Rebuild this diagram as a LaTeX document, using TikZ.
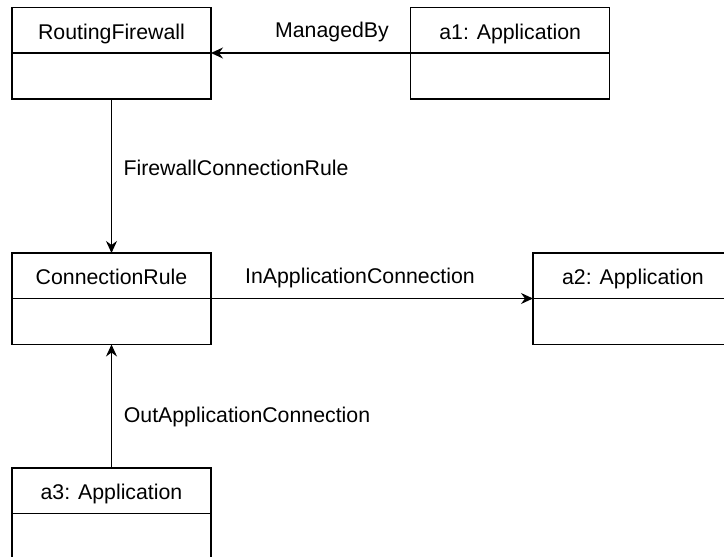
\documentclass[tikz,border=0pt]{standalone}
\usepackage{fontspec}
\setmainfont{Liberation Sans}
\usetikzlibrary{arrows.meta}
\begin{document}
\begin{tikzpicture}[x=1pt,y=-1pt,
  font=\fontsize{21.3}{25}\selectfont,
  every path/.style={line width=1.3pt},
  head/.style={draw, line width=1.3pt, minimum width=199pt, minimum height=45.5pt, inner sep=0pt, outer sep=0pt, text height=22pt, text depth=4pt, anchor=north west},
  body/.style={draw, line width=1.3pt, minimum width=199pt, minimum height=46pt, inner sep=0pt, outer sep=0pt, anchor=north},
  lbl/.style={inner sep=0pt, anchor=base},
  conn/.style={draw, line width=1.3pt, -{Stealth[length=12pt,width=11pt,inset=4pt]}}
]
\useasboundingbox (0,0) rectangle (724,557);
% boxes
\node[head] (rfh) at (12,7.5) {RoutingFirewall};
\node[body] (rfb) at (rfh.south) {};
\node[head] (a1h) at (410.7,7.5) {a1: Application};
\node[body] (a1b) at (a1h.south) {};
\node[head] (crh) at (12,253) {ConnectionRule};
\node[body] (crb) at (crh.south) {};
\node[head, minimum width=215pt] (a2h) at (533,253) {};
\node[body, minimum width=215pt] (a2b) at (a2h.south) {};
\node[head, draw=none, minimum width=200pt] (a2t) at (533,253) {a2: Application};
\node[head] (a3h) at (12,468) {a3: Application};
\node[body] (a3b) at (a3h.south) {};
% connectors
\draw[conn] (a1h.south west) -- (rfh.south east);
\draw[conn] (rfb.south) -- (crh.north);
\draw[conn] (crh.south east) -- (a2h.south west);
\draw[conn] (a3h.north) -- (crb.south);
% labels
\node[lbl] (l1) at (332,37) {ManagedBy};
\node[lbl] (l2) at (236,175) {FirewallConnectionRule};
\node[lbl] (l3) at (360,283) {InApplicationConnection};
\node[lbl] (l4) at (247,422) {OutApplicationConnection};
\end{tikzpicture}
\end{document}
